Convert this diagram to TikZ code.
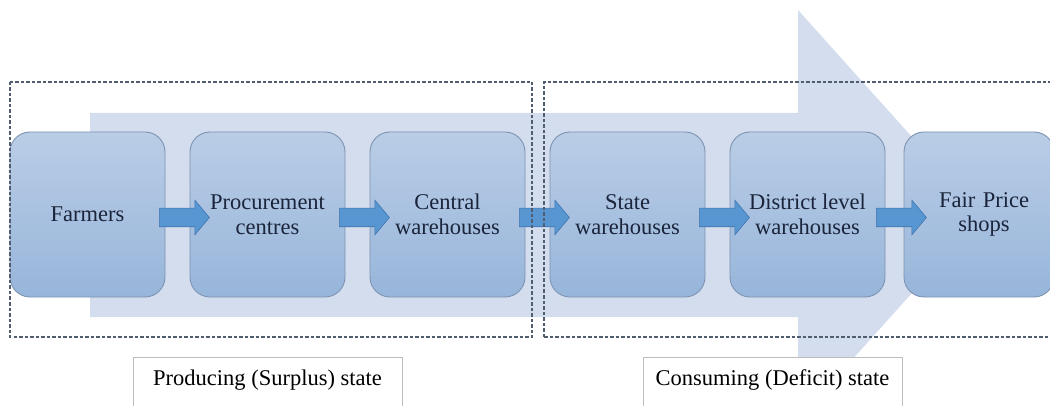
\documentclass[tikz,border=0pt]{standalone}
\usepackage{fontspec}
\setmainfont{Liberation Serif}
\newfontfamily\lserif{Liberation Serif}
\usetikzlibrary{shapes.arrows,calc}
\definecolor{bigarrow}{HTML}{D3DDEE}
\definecolor{boxtop}{HTML}{BACDE6}
\definecolor{boxbot}{HTML}{97B5DA}
\definecolor{boxline}{HTML}{7D93B2}
\definecolor{arrfill}{HTML}{5896D2}
\definecolor{arrline}{HTML}{3F75AE}
\definecolor{txt}{HTML}{1A243A}
\definecolor{dashc}{HTML}{4F5D6E}
\definecolor{lblline}{HTML}{BDBDBD}
\tikzset{
  stagebox/.style={draw=boxline, line width=0.9pt, rounded corners=20pt,
    top color=boxtop, bottom color=boxbot, minimum height=165pt,
    text=txt, align=center, inner sep=0pt,
    font=\lserif\fontsize{22.5}{24.5}\selectfont},
  flowarrow/.style={single arrow, draw=arrline, fill=arrfill, line width=0.6pt,
    minimum height=50pt, inner xsep=0pt, inner ysep=9pt, single arrow head extend=8pt,
    single arrow tip angle=100, anchor=center},
  regionbox/.style={draw=dashc, line width=1.3pt, dash pattern=on 3.5pt off 2pt},
  labelbox/.style={draw=lblline, line width=0.7pt, fill=white},
  labeltext/.style={text=black, font=\lserif\fontsize{22.5}{24.5}\selectfont, inner sep=0pt}
}
\begin{document}
\begin{tikzpicture}[x=1pt,y=-1pt]
\useasboundingbox (0,0) rectangle (1050,406);
\begin{scope}
\clip (0,0) rectangle (1050,406);
% big background arrow
\fill[bigarrow] (90,113) -- (798,113) -- (798,10) -- (982,215) -- (798,420) -- (798,317) -- (90,317) -- cycle;
% stage boxes
\node[stagebox, minimum width=155pt] (farm) at (87.5,214.5) {Farmers};
\node[stagebox, minimum width=155pt] (proc) at (267.5,214.5) {Procurement\\centres};
\node[stagebox, minimum width=155pt] (cent) at (447.5,214.5) {Central\\warehouses};
\node[stagebox, minimum width=155pt] (stat) at (627.5,214.5) {State\\warehouses};
\node[stagebox, minimum width=155pt] (dist) at (807.5,214.5) {District level\\warehouses};
\node[stagebox, minimum width=138pt, text width=150pt] (fair) at (979,214.5) {\hspace*{10pt}Fair Price\\\hspace*{10pt}shops};
% flow arrows between stages
\node[flowarrow] (a1) at ($(farm.east)!0.5!(proc.west)+(3,3)$) {};
\node[flowarrow] (a2) at ($(proc.east)!0.5!(cent.west)+(3,3)$) {};
\node[flowarrow] (a3) at ($(cent.east)!0.5!(stat.west)+(3,3)$) {};
\node[flowarrow] (a4) at ($(stat.east)!0.5!(dist.west)+(3,3)$) {};
\node[flowarrow] (a5) at ($(dist.east)!0.5!(fair.west)+(3,3)$) {};
% dashed regions
\draw[regionbox] (10,82) rectangle (532,337);
\draw[regionbox] (544,337) -- (544,82) -- (1056,82);
\draw[regionbox] (544,337) -- (1056,337);
% labels
\draw[labelbox] (133,357) rectangle (402,415);
\node[labeltext] (prod) at (267.5,380) {Producing (Surplus) state};
\draw[labelbox] (643,357) rectangle (902,415);
\node[labeltext] (cons) at (772.5,380) {Consuming (Deficit) state};
\end{scope}
\end{tikzpicture}
\end{document}
